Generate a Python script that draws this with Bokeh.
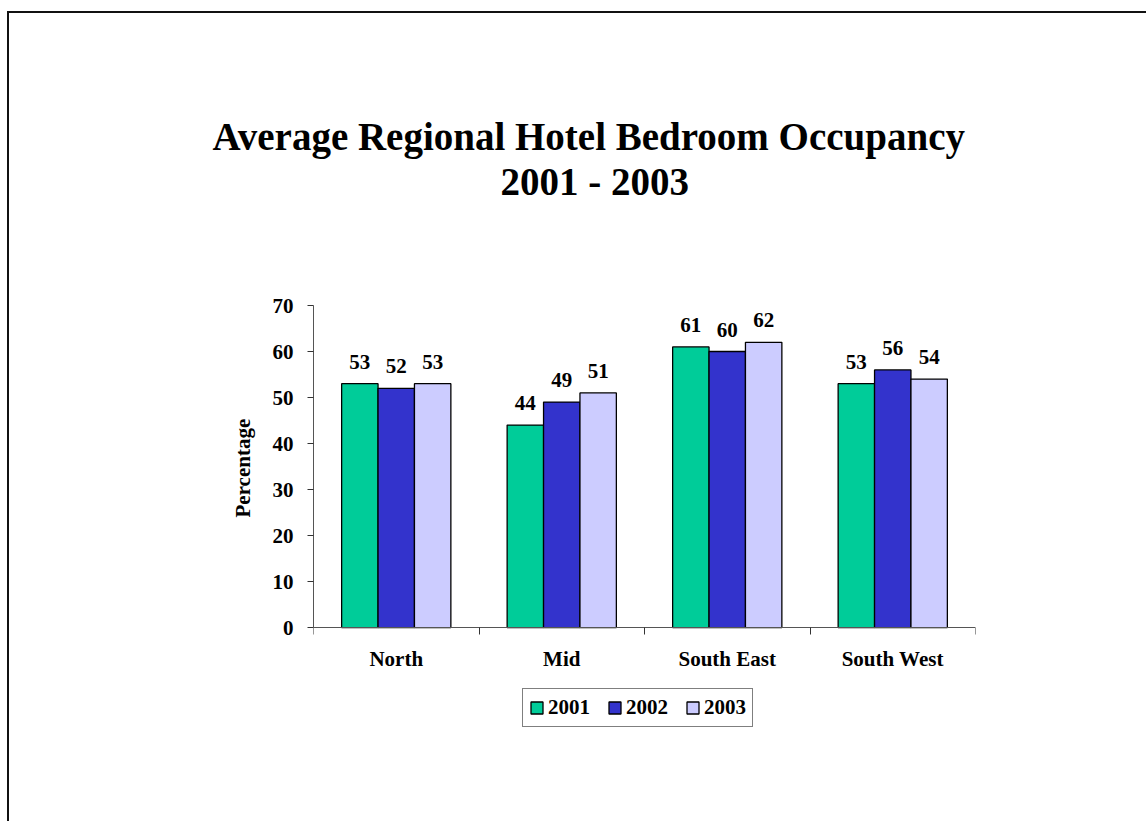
from bokeh.plotting import figure
from bokeh.models import ColumnDataSource, FixedTicker, Legend, LegendItem, Range1d, Title
from bokeh.core.properties import value
from bokeh.transform import dodge
from bokeh.embed import file_html
from bokeh.resources import INLINE

# ---- data ----
regions = ["North", "Mid", "South East", "South West"]
years = ["2001", "2002", "2003"]
occ_2001 = [53, 44, 61, 53]
occ_2002 = [52, 49, 60, 56]
occ_2003 = [53, 51, 62, 54]
y_ticks = [0, 10, 20, 30, 40, 50, 60, 70]
colors = ["#00CC99", "#3333CC", "#CCCCFF"]
title_lines = ["Average Regional Hotel Bedroom Occupancy", "2001 - 2003"]
y_label = "Percentage"

FONT = "Liberation Serif"
series = [occ_2001, occ_2002, occ_2003]

centers = [i + 0.5 for i in range(len(regions))]
data = {"x": centers}
for yr, vals in zip(years, series):
    data["y" + yr] = vals
    data["t" + yr] = [str(v) for v in vals]
src = ColumnDataSource(data)

# frame extends below zero to leave room for the category labels and legend
p = figure(width=1139, height=810, output_backend="svg", toolbar_location=None,
           x_range=Range1d(0, len(regions)), y_range=Range1d(-25.2, 70),
           min_border_left=304, min_border_right=173, min_border_top=292,
           min_border_bottom=80, title=None)
p.styles = {"border-left": "2px solid #111", "border-top": "2px solid #111",
            "margin-top": "11px", "margin-left": "7px"}

# title: spacer closest to the plot, then line 2, then line 1
spacer = Title(text=" ", text_font_size="10px", standoff=90)
t2 = Title(text=title_lines[1], align="left", text_font=FONT, text_font_size="39px",
           text_font_style="bold", text_color="#000000", standoff=0, offset=187)
t1 = Title(text=title_lines[0], align="left", text_font=FONT, text_font_size="39px",
           text_font_style="bold", text_color="#000000", standoff=0, offset=-101)
p.add_layout(spacer, "above")
p.add_layout(t2, "above")
p.add_layout(t1, "above")

p.outline_line_color = None
p.xgrid.grid_line_color = None
p.ygrid.grid_line_color = None
p.background_fill_color = "white"
p.border_fill_color = "white"

offsets = [-0.22, 0.0, 0.22]
renderers = []
for yr, off, c in zip(years, offsets, colors):
    r = p.vbar(x=dodge("x", off, range=p.x_range), top="y" + yr, bottom=0, width=0.22,
               source=src, fill_color=c, line_color="#000000", line_width=1.3)
    renderers.append(r)
    p.text(x=dodge("x", off, range=p.x_range), y="y" + yr, text="t" + yr,
           source=src, text_align="center", text_baseline="alphabetic",
           y_offset=-22, text_font=value(FONT), text_font_size="21px",
           text_font_style="bold", text_color="#000000")

# x axis at y = 0: labels at centres, ticks at boundaries
xa = p.xaxis[0]
xa.fixed_location = 0
xa.ticker = FixedTicker(ticks=centers, minor_ticks=list(range(len(regions) + 1)))
xa.major_label_overrides = {c: r for c, r in zip(centers, regions)}
xa.major_tick_line_color = None
xa.major_tick_out = 0
xa.major_tick_in = 0
xa.minor_tick_line_color = "#333333"
xa.minor_tick_out = 7
xa.minor_tick_in = 0
xa.axis_line_color = "#555555"
xa.major_label_standoff = 12
xa.major_label_text_font = FONT
xa.major_label_text_font_size = "21px"
xa.major_label_text_font_style = "bold"
xa.major_label_text_color = "#000000"

ya = p.yaxis[0]
ya.bounds = (0, 70)
ya.ticker = FixedTicker(ticks=y_ticks)
ya.minor_tick_line_color = None
ya.major_tick_in = 0
ya.major_tick_out = 6
ya.major_tick_line_color = "#333333"
ya.axis_line_color = "#555555"
ya.major_label_standoff = 14
ya.major_label_text_font = FONT
ya.major_label_text_font_size = "21px"
ya.major_label_text_font_style = "bold"
ya.major_label_text_color = "#000000"

# y-axis title centred on the 0-70 part of the axis
ylab = Title(text=y_label, align="left", text_font=FONT, text_font_size="21px",
             text_font_style="bold", text_color="#000000", standoff=30, offset=226)
p.add_layout(ylab, "left")

legend = Legend(items=[LegendItem(label=yr, renderers=[r]) for yr, r in zip(years, renderers)],
                orientation="horizontal", location=(209, 16),
                glyph_width=15, glyph_height=15, label_standoff=4, spacing=17,
                padding=6, margin=0,
                label_text_font=FONT, label_text_font_size="21px",
                label_text_font_style="bold", label_text_color="#000000",
                border_line_color="#000000", border_line_width=1,
                background_fill_color="white", background_fill_alpha=1.0)
p.add_layout(legend, "center")

open("out.html", "w").write(file_html(p, INLINE))
